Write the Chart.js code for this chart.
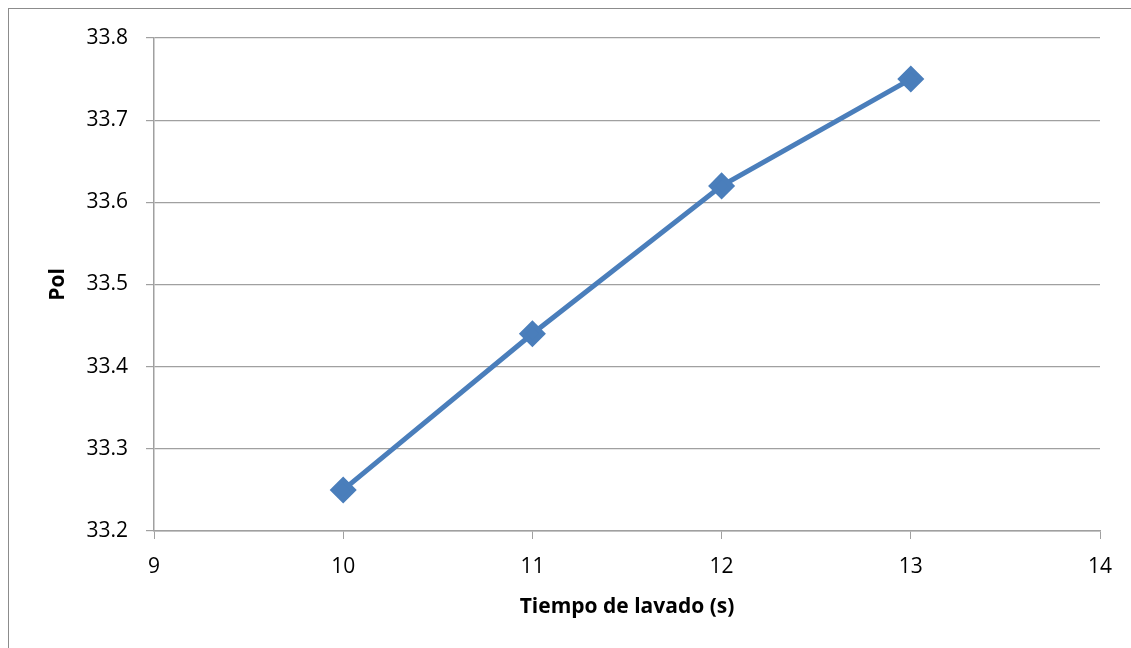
<!DOCTYPE html>
<html>
<head>
<meta charset="utf-8">
<script src="https://cdn.jsdelivr.net/npm/chart.js@4"></script>
<style>
  html, body { margin: 0; padding: 0; background: #fff; }
  #wrap { position: relative; width: 1131px; height: 648px; overflow: hidden; }
  #frame { position: absolute; left: 8px; top: 8px; width: 1200px; height: 700px;
           border-left: 1.5px solid #8c8c8c; border-top: 1.5px solid #8c8c8c; }
  #chart { position: absolute; left: 0; top: 0; }
</style>
</head>
<body>
<div id="wrap">
  <div id="frame"></div>
  <canvas id="chart" width="1131" height="648"></canvas>
</div>
<script>
const tiempo = [10, 11, 12, 13];
const pol = [33.25, 33.44, 33.62, 33.75];
const xTicks = [9, 10, 11, 12, 13, 14];
const yTicks = [33.2, 33.3, 33.4, 33.5, 33.6, 33.7, 33.8];

const ctx = document.getElementById('chart').getContext('2d');
const font = "'Open Sans', 'DejaVu Sans', sans-serif";

new Chart(ctx, {
    type: 'scatter',
    data: {
        datasets: [{
            data: tiempo.map((t, i) => ({ x: t, y: pol[i] })),
            showLine: true,
            borderColor: '#4a7ebb',
            backgroundColor: '#4a7ebb',
            borderWidth: 5,
            pointStyle: 'rectRot',
            pointRadius: 10,
            pointHoverRadius: 10
        }]
    },
    options: {
        responsive: false,
        animation: false,
        layout: { padding: { left: 0, top: 38, right: 31, bottom: 0 } },
        plugins: { legend: { display: false }, tooltip: { enabled: false } },
        scales: {
            x: {
                type: 'linear', min: 9, max: 14,
                afterBuildTicks: s => { s.ticks = xTicks.map(v => ({ value: v })); },
                afterFit: s => { s.height = 117; },
                grid: { drawOnChartArea: false, drawTicks: true, tickLength: 8, color: '#a0a0a0' },
                border: { color: '#a0a0a0', width: 1.5 },
                ticks: { color: '#000', font: { family: font, size: 21 }, padding: 15 },
                title: { display: true, text: 'Tiempo de lavado (s)', color: '#000',
                         font: { family: font, size: 21, weight: 'bold' }, padding: { bottom: 28 } }
            },
            y: {
                min: 33.2, max: 33.8,
                afterBuildTicks: s => { s.ticks = yTicks.map(v => ({ value: v })); },
                afterFit: s => { s.width = 154; },
                grid: { drawTicks: true, tickLength: 8, color: '#a0a0a0', lineWidth: 1.2 },
                border: { color: '#a0a0a0', width: 1.5 },
                ticks: { color: '#000', font: { family: font, size: 21 }, padding: 18,
                         callback: v => v.toFixed(1) },
                title: { display: true, text: 'Pol', color: '#000',
                         font: { family: font, size: 21, weight: 'bold' }, padding: { top: 45 } }
            }
        }
    }
});
</script>
</body>
</html>
